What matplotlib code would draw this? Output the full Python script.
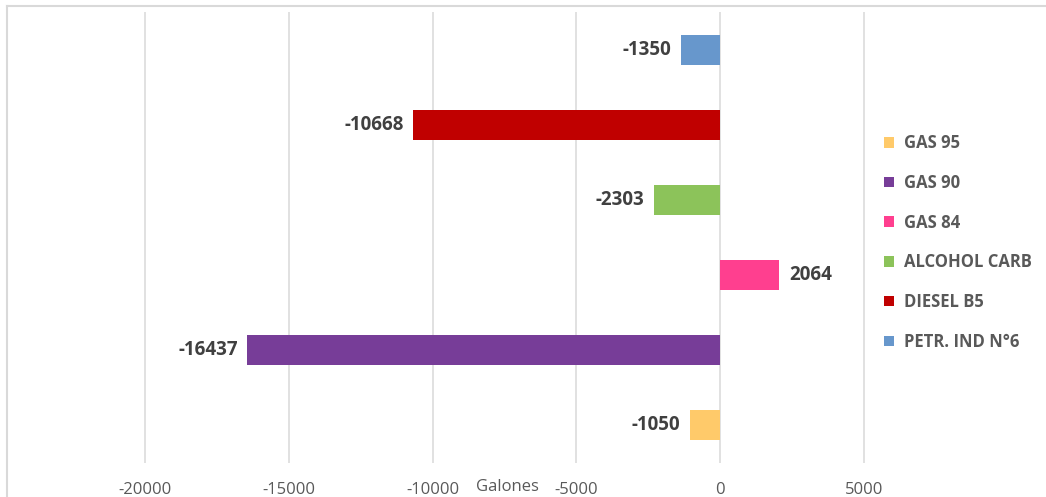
import matplotlib.pyplot as plt
from matplotlib.lines import Line2D

# data, bottom to top
productos = ['GAS 95', 'GAS 90', 'GAS 84', 'ALCOHOL CARB', 'DIESEL B5', 'PETR. IND N°6']
galones = [-1050, -16437, 2064, -2303, -10668, -1350]
colores = ['#FFCA6A', '#773D98', '#FF3F8F', '#8CC35A', '#C00000', '#6797CC']
ticks = [-20000, -15000, -10000, -5000, 0, 5000]

plt.rcParams['font.family'] = ['Open Sans', 'DejaVu Sans']

W, H = 1046, 497
fig = plt.figure(figsize=(W / 100, H / 100), dpi=100)
ax = fig.add_axes([7 / W, 34 / H, (W - 7) / W, (463 - 12) / H])

for i in range(len(productos)):
    b = ax.barh(i, galones[i], height=0.4, color=colores[i], label=productos[i], zorder=3)
    ax.bar_label(b, padding=7, fontsize=13.5, fontweight='bold', color='#404040')

# pixel -> value: 0 at x=720, 143.75 px per 5000
ax.set_xlim((7 - 720) * 5000 / 143.75, (W - 720) * 5000 / 143.75)
ax.set_ylim(-0.5, len(productos) - 0.5)
ax.set_xticks(ticks)
ax.set_xticklabels([str(t) for t in ticks])
ax.set_yticks([])
ax.tick_params(axis='x', length=0, pad=14, labelsize=12, labelcolor='#595959')
ax.grid(axis='x', color='#D9D9D9', linewidth=1.1, zorder=0)
for s in ax.spines.values():
    s.set_visible(False)

ax.set_xlabel('Galones', fontsize=12, color='#595959')
ax.xaxis.set_label_coords((507 - 7) / (W - 7), -0.036)

leg = ax.legend(loc='upper left', bbox_to_anchor=(876 / W, 1 - 126 / H),
                bbox_transform=fig.transFigure, frameon=False, borderpad=0,
                handlelength=0.6, handleheight=0.6, handletextpad=0.55,
                labelspacing=1.3, prop={'size': 12, 'weight': 'bold'})
for t in leg.get_texts():
    t.set_color('#595959')

# chart frame (top and left edges visible)
fig.add_artist(Line2D([7 / W, 7 / W], [0, 1 - 6 / H], color='#D9D9D9', lw=1.5, transform=fig.transFigure))
fig.add_artist(Line2D([7 / W, 1], [1 - 6 / H, 1 - 6 / H], color='#D9D9D9', lw=1.5, transform=fig.transFigure))

fig.savefig('out.png', dpi=100)
